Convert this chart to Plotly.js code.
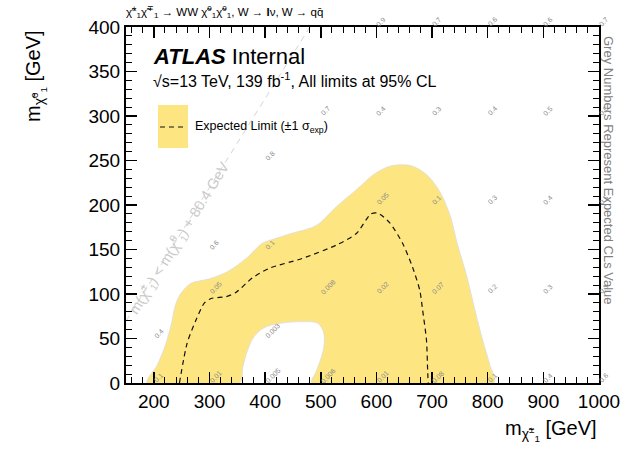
<!DOCTYPE html>
<html>
<head>
<meta charset="utf-8">
<script src="https://cdn.plot.ly/plotly-3.0.1.min.js"></script>
<style>html,body{margin:0;padding:0;background:#fff;}#chart{width:625px;height:449px;}</style>
</head>
<body>
<div id="chart"></div>
<script>
// ±1σ expected band (outer contour, then the hole at low masses)
const bandX = [188, 206, 221, 231, 239, 249, 267, 300, 332, 366, 395, 417, 447, 492, 528, 564, 597, 627, 663, 692, 714, 732, 746, 762, 777, 791, 804, 811,
               484, 491, 500, 506, 505, 495, 467, 426, 398, 380, 368, 360, 354, 188];
const bandY = [0, 20, 43, 65, 88, 101, 112, 117, 125, 140, 157, 162, 168, 177, 198, 217, 235, 244, 244, 233, 215, 189, 155, 121, 82, 48, 20, 0,
               0, 12, 27, 42, 57, 67, 69, 67, 62, 52, 36, 18, 0, 0];
// Expected limit (dashed)
const expX = [246, 260, 276, 291, 303, 330, 348, 377, 408, 467, 528, 564, 590, 602, 624, 647, 665, 678, 683, 690, 692, 693];
const expY = [0, 45, 71, 90, 95, 97, 102, 118, 129, 140, 155, 168, 190, 191, 180, 157, 130, 104, 82, 48, 15, 0];
// Kinematic limit m(chi±) = m(chi0) + mW
const wMass = 80.4;
const diagX = [150, 480.4];
const diagY = diagX.map(v => v - wMass);
// Grey CLs numbers
const clsX = [200, 300, 400, 500, 600, 700, 800, 900, 1000,
              200, 400,
              300, 500, 600, 700, 800, 900, 1000,
              300, 400,
              600, 700, 800, 900, 1000,
              400,
              500, 600, 700, 800, 900, 1000,
              600, 700, 800, 900, 1000];
const clsY = [0, 0, 0, 0, 0, 0, 0, 0, 0,
              50, 50,
              100, 100, 100, 100, 100, 100, 100,
              150, 150,
              200, 200, 200, 200, 200,
              250,
              300, 300, 300, 300, 300, 300,
              400, 400, 400, 400, 400];
const clsVal = ['0.1', '0.01', '0.005', '0.006', '0.01', '0.08', '0.1', '0.4', '0.6',
                '0.4', '0.003',
                '0.05', '0.008', '0.02', '0.07', '0.2', '0.3', '0.3',
                '0.6', '0.1',
                '0.05', '0.1', '0.3', '0.4', '0.5',
                '0.8',
                '0.7', '0.4', '0.3', '0.4', '0.5', '0.5',
                '0.9', '0.7', '0.6', '0.6', '0.7'];
const xTicks = [200, 300, 400, 500, 600, 700, 800, 900, 1000];
const yTicks = [0, 50, 100, 150, 200, 250, 300, 350, 400];

const FONT = 'Liberation Sans, Arial, Helvetica, sans-serif';
const chi = 'χ\u0303';

const traces = [
  {x: bandX, y: bandY, type: 'scatter', mode: 'lines', fill: 'toself', fillcolor: '#fde681',
   line: {color: '#dcdcdc', width: 0.8, shape: 'spline', smoothing: 0.9}, hoverinfo: 'skip', showlegend: false},
  {x: diagX, y: diagY, type: 'scatter', mode: 'lines', line: {color: '#d4d4d4', width: 1, dash: '6px,5px'},
   hoverinfo: 'skip', showlegend: false},
  {x: expX, y: expY, type: 'scatter', mode: 'lines', line: {color: '#111', width: 1.2, dash: '5px,4px', shape: 'spline', smoothing: 0.7},
   hoverinfo: 'skip', showlegend: false}
];

const ann = [];
for (let i = 0; i < clsX.length; i++) {
  const off = 0.707 * (clsVal[i].length * 3.8) / 2 + 1;
  ann.push({x: clsX[i], y: clsY[i], xref: 'x', yref: 'y', text: clsVal[i], showarrow: false,
    textangle: -45, font: {family: FONT, size: 7, color: '#8a8a8a'}, xanchor: 'center', yanchor: 'middle',
    xshift: off, yshift: off});
}
const px = p => (p - 126) / 473;
const py = p => (383 - p) / 356;
ann.push(
  {xref: 'paper', yref: 'paper', x: px(124), y: py(12), xanchor: 'left', yanchor: 'middle', showarrow: false,
   text: chi + '<sup>±</sup><sub>1</sub>' + chi + '<sup>∓</sup><sub>1</sub> → WW ' + chi + '<sup>0</sup><sub>1</sub>' + chi + '<sup>0</sup><sub>1</sub>, W → <b>l</b>ν, W → qq\u0304',
   font: {family: FONT, size: 11.5, color: '#000'}},
  {xref: 'paper', yref: 'paper', x: px(151), y: py(56), xanchor: 'left', yanchor: 'middle', showarrow: false,
   text: '<b><i>ATLAS</i></b> Internal', font: {family: FONT, size: 22, color: '#000'}},
  {xref: 'paper', yref: 'paper', x: px(151), y: py(80), xanchor: 'left', yanchor: 'middle', showarrow: false,
   text: '√s=13 TeV, 139 fb<sup>-1</sup>, All limits at 95% CL', font: {family: FONT, size: 16, color: '#000'}},
  {xref: 'paper', yref: 'paper', x: px(193), y: py(127), xanchor: 'left', yanchor: 'middle', showarrow: false,
   text: 'Expected Limit (±1 σ<sub>exp</sub>)', font: {family: FONT, size: 12.5, color: '#000'}},
  {xref: 'paper', yref: 'paper', x: px(599), y: py(431), xanchor: 'right', yanchor: 'middle', showarrow: false,
   text: 'm<sub>' + chi + '<sup>±</sup><sub>1</sub></sub> [GeV]', font: {family: FONT, size: 20, color: '#000'}},
  {xref: 'paper', yref: 'paper', x: px(36), y: py(28), xanchor: 'center', yanchor: 'top', showarrow: false, textangle: -90,
   text: 'm<sub>' + chi + '<sup>0</sup><sub>1</sub></sub> [GeV]', font: {family: FONT, size: 20, color: '#000'}},
  {xref: 'paper', yref: 'paper', x: px(609), y: py(170), xanchor: 'center', yanchor: 'middle', showarrow: false, textangle: 90,
   text: 'Grey Numbers Represent Expected CLs Value', font: {family: FONT, size: 13, color: '#808080'}},
  {xref: 'x', yref: 'y', x: 245, y: 163, showarrow: false, textangle: -58,
   text: 'm(' + chi + '<sup>±</sup><sub>1</sub>) &lt; m(' + chi + '<sup>0</sup><sub>1</sub>) + 80.4 GeV',
   font: {family: FONT, size: 14.5, color: '#cacaca'}}
);

const shapes = [
  {type: 'rect', xref: 'paper', yref: 'paper', x0: px(158), x1: px(188), y0: py(148), y1: py(105),
   fillcolor: '#fde681', line: {width: 0}},
  {type: 'line', xref: 'paper', yref: 'paper', x0: px(160), x1: px(187), y0: py(127), y1: py(127),
   line: {color: '#111', width: 1.2, dash: '5px,4px'}}
];

const axisCommon = {
  showline: true, linecolor: '#000', linewidth: 2, mirror: 'ticks', ticks: 'inside', ticklen: 11, tickwidth: 1.5,
  tickcolor: '#000', showgrid: false, zeroline: false, tickfont: {family: FONT, size: 19, color: '#000'},
  fixedrange: true
};
const layout = {
  width: 625, height: 449,
  margin: {l: 126, r: 26, t: 27, b: 66},
  paper_bgcolor: '#fff', plot_bgcolor: '#fff',
  showlegend: false,
  xaxis: Object.assign({}, axisCommon, {range: [150, 1000], tickvals: xTicks, ticktext: xTicks.map(String),
    minor: {ticks: 'inside', ticklen: 6, tickwidth: 1, tickcolor: '#000', dtick: 20, tick0: 0}}),
  yaxis: Object.assign({}, axisCommon, {range: [0, 400], tickvals: yTicks, ticktext: yTicks.map(String),
    minor: {ticks: 'inside', ticklen: 6, tickwidth: 1, tickcolor: '#000', dtick: 10, tick0: 0}}),
  annotations: ann,
  shapes: shapes
};
Plotly.newPlot('chart', traces, layout, {displayModeBar: false, staticPlot: true});
</script>
</body>
</html>
